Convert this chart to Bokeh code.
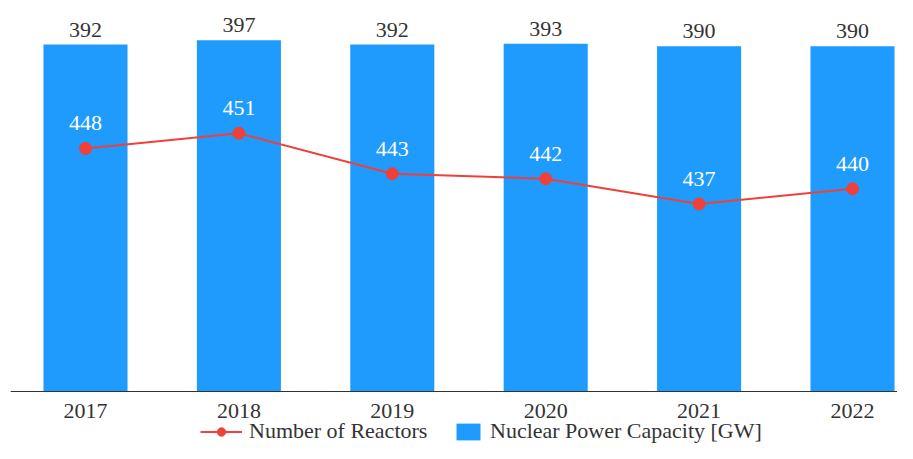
from bokeh.plotting import figure
from bokeh.models import (ColumnDataSource, Range1d, LabelSet, Legend, LegendItem,
                          FixedTicker)
from bokeh.core.properties import value
from bokeh.embed import file_html
from bokeh.resources import INLINE

years = ["2017", "2018", "2019", "2020", "2021", "2022"]
capacity = [392, 397, 392, 393, 390, 390]
reactors = [448, 451, 443, 442, 437, 440]

FONT = "Liberation Serif"
BAR_COLOR = "#1e9bfd"
LINE_COLOR = "#f0403a"
TEXT_COLOR = "#333333"

# layout constants (pixels)
W, H = 897, 443
BASE = 391.0       # pixel row of the x axis line
K_BAR = 0.885      # px per GW
K_LINE = 5.05      # px per reactor

bar_start = -(H - BASE) / K_BAR
bar_end = BASE / K_BAR
line_start = 443.5 - (H - 170.65) / K_LINE
line_end = 443.5 + 170.65 / K_LINE

xs = list(range(len(years)))
src = ColumnDataSource(dict(
    x=xs, year=years, capacity=capacity, reactors=reactors,
    cap_label=[str(v) for v in capacity],
    rea_label=[str(v) for v in reactors],
))

p = figure(width=W, height=H, output_backend="svg", toolbar_location=None,
           x_range=Range1d(-0.4889, 5.2934), y_range=Range1d(bar_start, bar_end),
           y_axis_location=None, min_border_left=10, min_border_right=0,
           min_border_top=0, min_border_bottom=0)
p.extra_y_ranges = {"r": Range1d(line_start, line_end)}
p.outline_line_color = None
p.xgrid.visible = False
p.ygrid.visible = False
p.background_fill_color = "white"
p.border_fill_color = "white"

bars = p.vbar(x="x", top="capacity", bottom=0, width=0.548, source=src,
              fill_color=BAR_COLOR, line_color=None)

line_r = p.line(x="x", y="reactors", source=src, y_range_name="r",
                line_color=LINE_COLOR, line_width=2)
dots = p.scatter(x="x", y="reactors", source=src, y_range_name="r",
                 size=12, fill_color=LINE_COLOR, line_color=LINE_COLOR)

p.add_layout(LabelSet(x="x", y="capacity", text="cap_label", source=src,
                      y_offset=8, text_align="center", text_baseline="alphabetic",
                      text_font=value(FONT), text_font_size="22px",
                      text_color=TEXT_COLOR))
p.add_layout(LabelSet(x="x", y="reactors", text="rea_label", source=src,
                      y_range_name="r", y_offset=18, text_align="center",
                      text_baseline="alphabetic", text_font=value(FONT),
                      text_font_size="22px", text_color="white"))

ax = p.xaxis[0]
ax.fixed_location = 0
ax.ticker = FixedTicker(ticks=xs)
ax.major_label_overrides = {i: y for i, y in zip(xs, years)}
ax.major_tick_line_color = None
ax.minor_tick_line_color = None
ax.major_tick_out = 0
ax.major_tick_in = 0
ax.major_label_standoff = 12
ax.axis_line_color = TEXT_COLOR
ax.axis_line_width = 1
ax.major_label_text_font = FONT
ax.major_label_text_font_size = "22px"
ax.major_label_text_color = TEXT_COLOR


def make_legend(label, renderers, x, gw):
    return Legend(items=[LegendItem(label=label, renderers=renderers)],
                  location=(x, -1), orientation="horizontal",
                  glyph_width=gw, glyph_height=21, label_height=21,
                  label_standoff=7, padding=0, margin=0, spacing=0,
                  border_line_color=None, background_fill_alpha=0,
                  label_text_font=FONT, label_text_font_size="22px",
                  label_text_color=TEXT_COLOR)


p.add_layout(make_legend("Number of Reactors", [line_r, dots], 190, 42))
p.add_layout(make_legend("Nuclear Power Capacity [GW]", [bars], 443, 30))

open("out.html", "w").write(file_html(p, INLINE))
